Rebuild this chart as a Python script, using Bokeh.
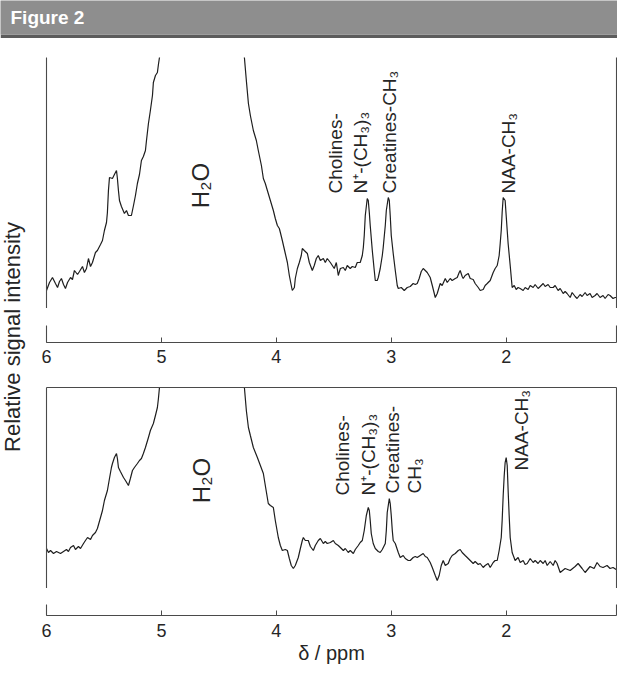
import math
from bokeh.plotting import figure
from bokeh.models import Range1d, LinearAxis, FixedTicker, Label, ColumnDataSource
from bokeh.layouts import column, row
from bokeh.core.properties import value
from bokeh.embed import file_html
from bokeh.resources import INLINE

# ---------------- data ----------------
tick_ppm = [6, 5, 4, 3, 2]

top_ppm = [6.000, 5.974, 5.948, 5.922, 5.904, 5.887, 5.870, 5.852, 5.835, 5.817,
           5.791, 5.774, 5.757, 5.730, 5.713, 5.687, 5.670, 5.652, 5.635, 5.617,
           5.600, 5.574, 5.557, 5.530, 5.513, 5.496, 5.478, 5.470, 5.461, 5.452,
           5.426, 5.409, 5.391, 5.383, 5.374, 5.365, 5.348, 5.322, 5.304, 5.287,
           5.261, 5.243, 5.226, 5.209, 5.191, 5.174, 5.157, 5.139, 5.130, 5.113,
           5.096, 5.078, 5.070, 5.052, 5.035, 5.026, 5.017,
           4.900, 4.750, 4.600, 4.400,
           4.278, 4.261, 4.243, 4.226, 4.200, 4.174, 4.157, 4.130, 4.113, 4.096,
           4.078, 4.052, 4.026, 4.009, 3.991, 3.974, 3.965, 3.948, 3.922, 3.904,
           3.887, 3.870, 3.861, 3.843, 3.835, 3.817, 3.800, 3.783, 3.774, 3.757,
           3.730, 3.713, 3.687, 3.670, 3.652, 3.635, 3.617, 3.591, 3.574, 3.557,
           3.530, 3.513, 3.496, 3.478, 3.461, 3.443, 3.417, 3.400, 3.383, 3.357,
           3.339, 3.313, 3.296, 3.270, 3.252, 3.243, 3.235, 3.226, 3.209, 3.200,
           3.191, 3.183, 3.165, 3.148, 3.139, 3.122, 3.113, 3.096, 3.078, 3.070,
           3.052, 3.043, 3.026, 3.017, 3.009, 3.000, 2.983, 2.965, 2.948, 2.939,
           2.913, 2.887, 2.861, 2.835, 2.809, 2.791, 2.774, 2.757, 2.739, 2.722,
           2.704, 2.687, 2.661, 2.643, 2.617, 2.600, 2.574, 2.557, 2.530, 2.513,
           2.487, 2.470, 2.443, 2.426, 2.409, 2.400, 2.383, 2.374, 2.357, 2.330,
           2.313, 2.287, 2.270, 2.243, 2.226, 2.200, 2.183, 2.165, 2.139, 2.113,
           2.096, 2.078, 2.061, 2.052, 2.043, 2.035, 2.026, 2.009, 2.000, 1.991,
           1.983, 1.965, 1.948, 1.930, 1.913, 1.896, 1.878, 1.852, 1.835, 1.809,
           1.791, 1.765, 1.748, 1.722, 1.704, 1.678, 1.661, 1.635, 1.617, 1.591,
           1.574, 1.548, 1.530, 1.504, 1.487, 1.470, 1.443, 1.426, 1.400, 1.383,
           1.357, 1.339, 1.313, 1.296, 1.270, 1.252, 1.226, 1.209, 1.183, 1.157,
           1.139, 1.113, 1.096, 1.070, 1.052, 1.026]
top_int = [18, 26, 31, 25, 21, 27, 30, 24, 20, 26,
           31, 29, 38, 34, 37, 42, 36, 40, 50, 42,
           46, 56, 58, 64, 68, 78, 86, 96, 118, 131,
           130, 134, 138, 130, 118, 108, 102, 95, 98, 93,
           93, 103, 113, 125, 134, 148, 152, 158, 168, 185,
           198, 213, 226, 233, 236, 244, 251,
           420, 900, 900, 400,
           251, 228, 205, 193, 178, 168, 158, 143, 130, 125,
           118, 108, 98, 90, 83, 80, 76, 68, 55, 46,
           33, 23, 18, 21, 30, 40, 46, 53, 60, 58,
           55, 46, 38, 43, 50, 53, 48, 50, 46, 50,
           46, 43, 40, 46, 33, 40, 41, 38, 43, 40,
           42, 41, 46, 46, 53, 61, 73, 93, 110, 108,
           96, 83, 58, 38, 28, 28, 31, 40, 53, 61,
           83, 98, 111, 108, 93, 73, 55, 38, 23, 20,
           21, 18, 21, 22, 25, 24, 25, 30, 37, 40,
           38, 36, 31, 23, 11, 15, 25, 23, 30, 26,
           30, 28, 30, 31, 36, 38, 32, 30, 33, 35,
           30, 29, 25, 21, 18, 19, 23, 25, 28, 36,
           40, 43, 53, 65, 78, 96, 111, 108, 93, 78,
           65, 43, 21, 23, 19, 21, 20, 18, 21, 19,
           23, 21, 24, 20, 22, 25, 22, 24, 21, 21,
           23, 18, 20, 15, 17, 15, 11, 16, 12, 10,
           14, 12, 16, 13, 15, 11, 13, 15, 11, 13,
           10, 14, 13, 10, 11, 11]

bot_ppm = [6.000, 5.983, 5.965, 5.939, 5.913, 5.878, 5.852, 5.826, 5.809, 5.791,
           5.765, 5.748, 5.722, 5.704, 5.678, 5.661, 5.643, 5.617, 5.600, 5.574,
           5.557, 5.530, 5.513, 5.496, 5.470, 5.452, 5.435, 5.426, 5.409, 5.391,
           5.383, 5.374, 5.357, 5.330, 5.313, 5.287, 5.270, 5.252, 5.235, 5.209,
           5.191, 5.174, 5.157, 5.139, 5.113, 5.096, 5.070, 5.052, 5.035, 5.026,
           5.017, 4.900, 4.750, 4.600, 4.400,
           4.278, 4.261, 4.243, 4.226, 4.200, 4.165, 4.139, 4.113, 4.096, 4.070,
           4.052, 4.026, 4.009, 3.983, 3.965, 3.948, 3.922, 3.904, 3.887, 3.870,
           3.852, 3.835, 3.809, 3.791, 3.774, 3.765, 3.748, 3.722, 3.704, 3.678,
           3.661, 3.635, 3.617, 3.591, 3.574, 3.557, 3.530, 3.504, 3.487, 3.461,
           3.443, 3.417, 3.400, 3.374, 3.357, 3.330, 3.313, 3.287, 3.270, 3.252,
           3.235, 3.217, 3.200, 3.191, 3.183, 3.174, 3.157, 3.139, 3.113, 3.096,
           3.078, 3.052, 3.043, 3.035, 3.017, 3.009, 3.000, 2.991, 2.983, 2.965,
           2.939, 2.922, 2.896, 2.878, 2.852, 2.835, 2.809, 2.791, 2.774, 2.748,
           2.722, 2.704, 2.687, 2.661, 2.643, 2.617, 2.600, 2.583, 2.565, 2.548,
           2.530, 2.504, 2.487, 2.470, 2.443, 2.417, 2.400, 2.383, 2.357, 2.339,
           2.313, 2.287, 2.270, 2.243, 2.226, 2.200, 2.183, 2.157, 2.139, 2.113,
           2.096, 2.078, 2.061, 2.043, 2.035, 2.026, 2.017, 2.009, 2.000, 1.991,
           1.983, 1.974, 1.965, 1.948, 1.922, 1.896, 1.878, 1.852, 1.835, 1.817,
           1.791, 1.765, 1.748, 1.722, 1.704, 1.678, 1.661, 1.643, 1.617, 1.591,
           1.574, 1.557, 1.530, 1.487, 1.443, 1.400, 1.374, 1.339, 1.313, 1.270,
           1.235, 1.209, 1.183, 1.157, 1.122, 1.096, 1.070, 1.043, 1.009]
bot_int = [40, 36, 38, 35, 37, 35, 37, 39, 37, 41,
           43, 39, 42, 40, 45, 48, 51, 49, 53, 56,
           60, 71, 78, 88, 98, 110, 121, 125, 131, 135,
           130, 121, 117, 111, 108, 103, 110, 118, 121, 125,
           128, 130, 135, 141, 151, 158, 165, 173, 181, 190,
           201, 340, 720, 720, 320,
           201, 178, 161, 153, 141, 131, 123, 115, 103, 85,
           83, 81, 68, 51, 43, 38, 39, 38, 30, 23,
           20, 23, 31, 40, 48, 51, 48, 48, 42, 38,
           43, 48, 50, 45, 47, 45, 46, 48, 45, 43,
           41, 38, 40, 36, 38, 35, 39, 43, 46, 48,
           58, 73, 81, 78, 68, 55, 45, 40, 37, 36,
           39, 45, 58, 76, 90, 85, 73, 58, 48, 45,
           36, 31, 33, 30, 28, 28, 31, 32, 31, 33,
           35, 32, 31, 26, 21, 13, 8, 13, 23, 28,
           23, 25, 30, 33, 35, 38, 39, 36, 33, 31,
           28, 25, 27, 24, 25, 21, 23, 25, 21, 26,
           28, 28, 38, 51, 68, 93, 113, 126, 131, 123,
           98, 73, 51, 36, 28, 31, 26, 28, 24, 25,
           30, 26, 28, 25, 28, 25, 28, 23, 27, 23,
           28, 25, 16, 20, 18, 22, 25, 20, 16, 22,
           20, 26, 22, 21, 23, 20, 21, 19, 18]

top_label_text = ["Cholines-", "N\u207a-(CH\u2083)\u2083", "Creatines-CH\u2083", "NAA-CH\u2083"]
top_label_ppm = [3.487, 3.270, 3.018, 1.983]
top_label_int = [115, 115, 115, 115]
top_water_ppm = [4.661]
top_water_int = [123]

bot_label_text = ["Cholines-", "N\u207a-(CH\u2083)\u2083", "Creatines-", "CH\u2083", "NAA-CH\u2083"]
bot_label_ppm = [3.426, 3.200, 2.991, 2.800, 1.870]
bot_label_int = [93, 93, 95, 95, 118]
bot_water_ppm = [4.652]
bot_water_int = [108]

assert len(top_ppm) == len(top_int)
assert len(bot_ppm) == len(bot_int)

# ---------------- styling ----------------
FONT = "Liberation Sans"
AXC = "#4a4a4a"
TRACE = "#1e1e1e"
TXT = "#262626"

xr = Range1d(6.0, 1.04)


def blank_axis():
    return LinearAxis(ticker=FixedTicker(ticks=[]), major_tick_in=0, major_tick_out=0,
                      minor_tick_in=0, minor_tick_out=0,
                      major_label_text_font_size="0px", major_label_standoff=0,
                      axis_line_color=AXC, axis_line_width=1.1)


def base_fig(height, top, bottom, y_end):
    p = figure(width=579, height=height, x_range=xr, y_range=Range1d(0, y_end),
               x_axis_location=None, y_axis_location=None, toolbar_location=None,
               output_backend="svg", min_border_left=8, min_border_right=1,
               min_border_top=top, min_border_bottom=bottom)
    p.outline_line_color = None
    p.grid.visible = False
    p.background_fill_color = "white"
    p.border_fill_color = "white"
    return p


def panel(height, top, y_end, ppm, inten, lab_t, lab_x, lab_y, w_x, w_y, top_line):
    p = base_fig(height, top, 0, y_end)
    p.add_layout(blank_axis(), "left")
    p.add_layout(blank_axis(), "right")
    if top_line:
        p.add_layout(blank_axis(), "above")
    p.line(x=ppm, y=inten, line_color=TRACE, line_width=1.2)
    src = ColumnDataSource(dict(x=lab_x, y=lab_y, t=lab_t))
    p.text(x="x", y="y", text="t", source=src, angle=math.pi / 2,
           text_align="left", text_baseline="alphabetic",
           text_font=value(FONT), text_font_size="19px", text_color=TXT)
    p.text(x=w_x, y=w_y, text=["H\u2082O"], angle=math.pi / 2,
           text_align="center", text_baseline="middle",
           text_font=value(FONT), text_font_size="24px", text_color=TXT)
    return p


def axis_fig(height, top, bottom, standoff, label=None):
    p = base_fig(height, top, bottom, 1)
    p.add_layout(blank_axis(), "left")
    p.add_layout(blank_axis(), "right")
    ax = LinearAxis(ticker=FixedTicker(ticks=tick_ppm), major_tick_in=5, major_tick_out=0,
                    minor_tick_in=0, minor_tick_out=0,
                    axis_line_color=AXC, axis_line_width=1.1, major_tick_line_color=AXC,
                    major_label_text_font=FONT, major_label_text_font_size="18px",
                    major_label_text_color=TXT, major_label_standoff=standoff)
    if label:
        ax.axis_label = label
        ax.axis_label_text_font = FONT
        ax.axis_label_text_font_size = "20px"
        ax.axis_label_text_font_style = "normal"
        ax.axis_label_text_color = TXT
        ax.axis_label_standoff = 2
    p.add_layout(ax, "below")
    return p


# header bar
hdr = figure(width=617, height=38, x_range=Range1d(0, 617), y_range=Range1d(0, 34),
             x_axis_location=None, y_axis_location=None, toolbar_location=None,
             output_backend="svg", min_border_left=0, min_border_right=0,
             min_border_top=0, min_border_bottom=4)
hdr.grid.visible = False
hdr.outline_line_color = None
hdr.background_fill_color = "#8e8e8e"
hdr.border_fill_color = "#5c5c5c"
hdr.add_layout(Label(x=10, y=7, text="Figure 2", text_color="white",
                     text_font=FONT, text_font_style="bold", text_font_size="19px"))

# y label strip
ylab = figure(width=38, height=631, x_range=Range1d(0, 1), y_range=Range1d(0, 1),
              x_axis_location=None, y_axis_location=None, toolbar_location=None,
              output_backend="svg", min_border_left=0, min_border_right=0,
              min_border_top=0, min_border_bottom=0)
ylab.grid.visible = False
ylab.outline_line_color = None
ylab.add_layout(Label(x=0.32, y=0.527, text="Relative signal intensity", angle=math.pi / 2,
                      text_align="center", text_baseline="middle",
                      text_font=FONT, text_font_size="22px", text_color=TXT))

p1 = panel(270, 19, 251, top_ppm, top_int, top_label_text, top_label_ppm, top_label_int,
           top_water_ppm, top_water_int, False)
a1 = axis_fig(64, 17, 30, 7)
p2 = panel(216, 15, 201, bot_ppm, bot_int, bot_label_text, bot_label_ppm, bot_label_int,
           bot_water_ppm, bot_water_int, True)
a2 = axis_fig(81, 16, 54, 8, label="\u03b4 / ppm")

layout = column(hdr, row(ylab, column(p1, a1, p2, a2, spacing=0), spacing=0), spacing=0)

open("out.html", "w").write(file_html(layout, INLINE))
